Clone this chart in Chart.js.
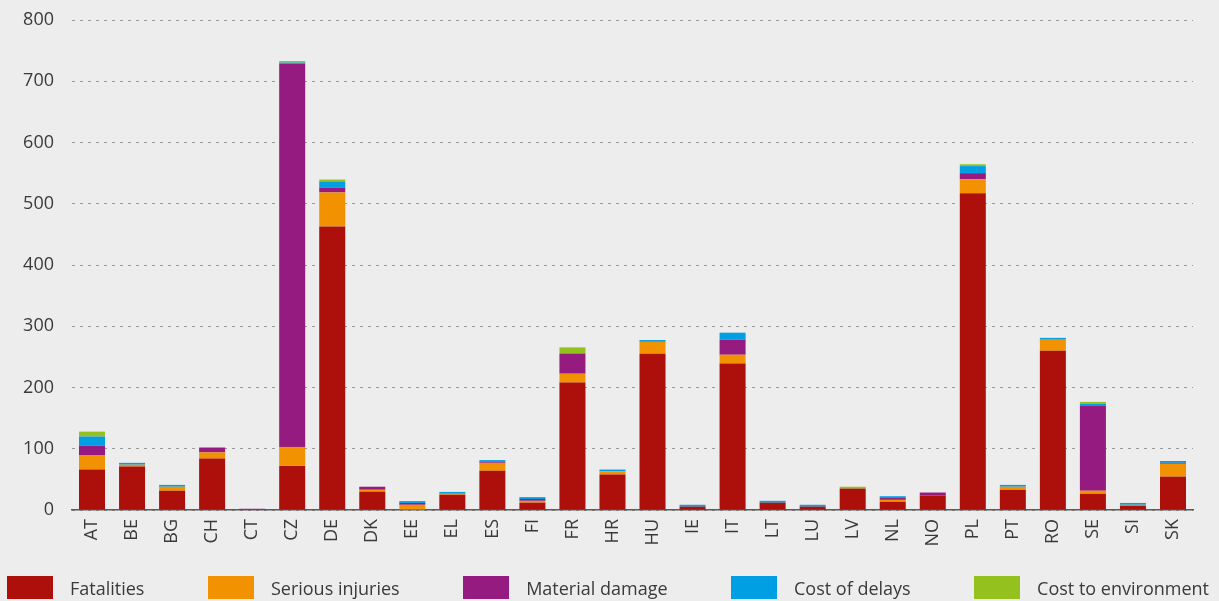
<!DOCTYPE html>
<html>
<head>
<meta charset="utf-8">
<script src="https://cdn.jsdelivr.net/npm/chart.js@4"></script>
<style>
    html, body { margin: 0; padding: 0; background: #ededed; }
    .wrap { position: relative; width: 1219px; height: 601px; }
    .legend {
        position: absolute; top: 576px; left: 7px; right: 10px; height: 23px;
        display: flex; justify-content: space-between; align-items: center;
        font-family: 'Open Sans', sans-serif; font-size: 18px; color: #3a3a3a;
    }
    .legend-item { display: flex; align-items: center; white-space: nowrap; }
    .legend-box { width: 46px; height: 23px; margin-right: 17px; }
</style>
</head>
<body>
<div class="wrap">
    <canvas id="chart"></canvas>
    <div class="legend" id="legend"></div>
</div>
<script>
// ============================================================================
// Data
// ============================================================================
const countries = ['AT', 'BE', 'BG', 'CH', 'CT', 'CZ', 'DE', 'DK', 'EE', 'EL', 'ES', 'FI', 'FR', 'HR',
    'HU', 'IE', 'IT', 'LT', 'LU', 'LV', 'NL', 'NO', 'PL', 'PT', 'RO', 'SE', 'SI', 'SK'];

const fatalities     = [66, 71, 31.5, 84, 0, 72, 463, 30, 0.5, 25, 64, 12, 208, 58, 255, 5.5, 239, 12, 5.5, 35, 13.5, 23.5, 517, 33, 260, 26.5, 7, 54.5];
const seriousInjury  = [23, 3, 6.5, 10, 0, 31, 55.5, 3, 8, 1.5, 13, 3, 14.5, 5, 19.5, 0, 14.5, 0, 0, 0, 3, 0, 23, 5, 18, 5, 1.5, 21];
const materialDamage = [16, 0, 0, 8, 2, 626, 8, 5, 3, 0, 1.5, 3, 33, 0, 0, 0, 24.5, 0, 0, 0, 3, 5, 10, 0, 0, 139, 0, 1.5];
const costDelays     = [15, 3, 3, 0, 0, 1.5, 10, 0, 3, 3, 3, 3, 0, 3, 3, 3, 11.5, 3, 3, 0, 3, 0, 11.5, 3, 3, 3, 3, 3];
const costEnvironment = [8, 0, 0, 0, 0, 2.5, 3, 0, 0, 0, 0, 0, 10, 0, 0, 0, 0, 0, 0, 3, 0, 0, 3, 0, 0, 3, 0, 0];

const yTicks = [0, 100, 200, 300, 400, 500, 600, 700, 800];

const series = [
    { label: 'Fatalities', data: fatalities, color: '#ad100b' },
    { label: 'Serious injuries', data: seriousInjury, color: '#f39200' },
    { label: 'Material damage', data: materialDamage, color: '#951b81' },
    { label: 'Cost of delays', data: costDelays, color: '#009fe3' },
    { label: 'Cost to environment', data: costEnvironment, color: '#95c11f' }
];

// ============================================================================
// Chart
// ============================================================================
Chart.defaults.font.family = "'Open Sans', sans-serif";
Chart.defaults.color = '#3a3a3a';

const ctx = document.getElementById('chart');

new Chart(ctx, {
    type: 'bar',
    data: {
        labels: countries,
        datasets: series.map(s => ({
            label: s.label,
            data: s.data,
            backgroundColor: s.color,
            borderWidth: 0,
            barPercentage: 0.65,
            categoryPercentage: 1.0
        }))
    },
    options: {
        responsive: true,
        maintainAspectRatio: false,
        animation: false,
        devicePixelRatio: 1,
        layout: { padding: { top: 20, right: 26, bottom: 0, left: 0 } },
        plugins: {
            legend: { display: false },
            tooltip: { enabled: false }
        },
        scales: {
            x: {
                stacked: true,
                grid: { display: false, drawTicks: false },
                border: { display: true, color: '#5a5a5a', width: 1.5 },
                ticks: {
                    minRotation: 90,
                    maxRotation: 90,
                    padding: 9,
                    font: { size: 18 },
                    color: '#3a3a3a'
                },
                afterFit: (scale) => { scale.height = 91; }
            },
            y: {
                stacked: true,
                min: 0,
                max: 800,
                afterBuildTicks: (scale) => { scale.ticks = yTicks.map(v => ({ value: v })); },
                // tick marks hidden; their length only spaces labels from the plot
                grid: { color: '#9a9a9a', lineWidth: 1, drawTicks: true, tickLength: 18, tickColor: 'rgba(0,0,0,0)' },
                border: { display: false, dash: [3, 5] },
                ticks: {
                    padding: 0,
                    font: { size: 18 },
                    color: '#3a3a3a'
                },
                afterFit: (scale) => { scale.width = 72; }
            }
        }
    }
});

// HTML legend
const legendEl = document.getElementById('legend');
series.forEach(s => {
    const item = document.createElement('div');
    item.className = 'legend-item';
    item.innerHTML = `<span class="legend-box" style="background:${s.color}"></span><span>${s.label}</span>`;
    legendEl.appendChild(item);
});
</script>
</body>
</html>
